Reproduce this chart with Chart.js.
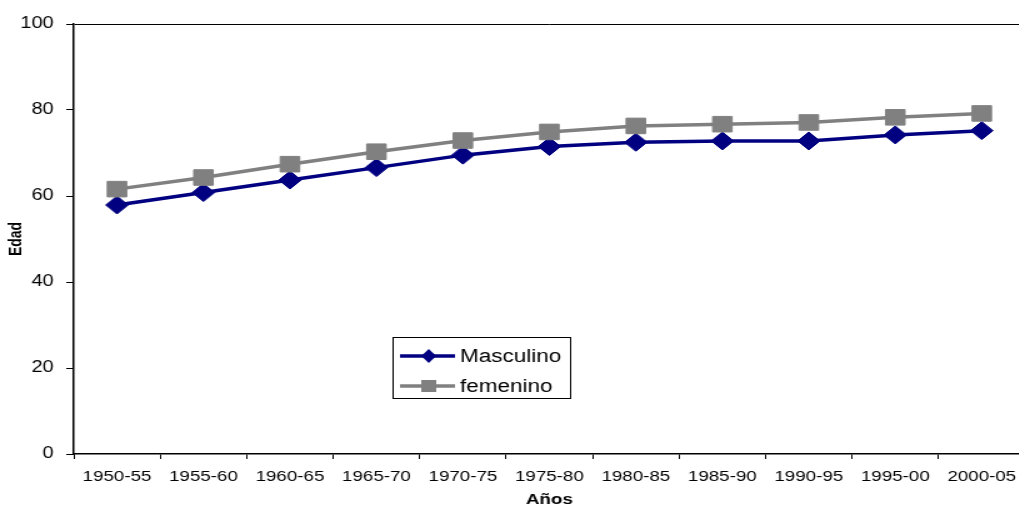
<!DOCTYPE html>
<html lang="es">
<head>
<meta charset="utf-8">
<title>Edad - Masculino / femenino</title>
<script src="https://cdn.jsdelivr.net/npm/chart.js@4/dist/chart.umd.min.js"></script>
<style>
    html, body { margin: 0; padding: 0; background: #fff; overflow: hidden; }
    #wrap { width: 1019px; height: 506px; overflow: hidden; }
</style>
</head>
<body>
<div id="wrap">
    <!-- the original picture is stretched sideways, so the canvas is drawn narrow and widened with css -->
    <canvas id="grafico" width="832" height="506" style="width:1040px;height:506px;"></canvas>
</div>
<script>
// Datos
const periodos = ['1950-55', '1955-60', '1960-65', '1965-70', '1970-75', '1975-80',
                  '1980-85', '1985-90', '1990-95', '1995-00', '2000-05'];
const masculino = [57.9, 60.8, 63.7, 66.6, 69.5, 71.5, 72.5, 72.8, 72.8, 74.2, 75.2];
const femenino = [61.6, 64.3, 67.4, 70.3, 72.9, 74.9, 76.3, 76.7, 77.1, 78.3, 79.2];
const ticksEdad = [0, 20, 40, 60, 80, 100];

const FUENTE = '"Liberation Sans", Arial, Helvetica, sans-serif';
const AZUL = '#000080';
const GRIS = '#808080';

// Leyenda dibujada dentro del area del grafico (como en Excel)
const leyendaCaja = {
    id: 'leyendaCaja',
    afterDatasetsDraw(chart) {
        const ctx = chart.ctx;
        const area = chart.chartArea;
        const x0 = area.left + 255;
        const y0 = area.top + 313;
        const w = 142;
        const h = 61;

        ctx.save();
        ctx.fillStyle = '#fff';
        ctx.fillRect(x0, y0, w, h);
        ctx.strokeStyle = '#000';
        ctx.lineWidth = 1;
        ctx.strokeRect(x0 + 0.5, y0 + 0.5, w, h);

        chart.data.datasets.forEach((ds, i) => {
            const yc = y0 + 19 + i * 30;
            ctx.strokeStyle = ds.borderColor;
            ctx.lineWidth = 3.5;
            ctx.beginPath();
            ctx.moveTo(x0 + 6, yc);
            ctx.lineTo(x0 + 50, yc);
            ctx.stroke();

            const mx = x0 + 29;
            ctx.fillStyle = ds.pointBackgroundColor;
            ctx.beginPath();
            if (ds.pointStyle === 'rectRot') {
                ctx.moveTo(mx, yc - 7);
                ctx.lineTo(mx + 6, yc);
                ctx.lineTo(mx, yc + 7);
                ctx.lineTo(mx - 6, yc);
                ctx.closePath();
            } else {
                ctx.rect(mx - 6, yc - 6, 12, 12);
            }
            ctx.fill();

            ctx.fillStyle = '#000';
            ctx.font = '18px ' + FUENTE;
            ctx.textAlign = 'left';
            ctx.textBaseline = 'middle';
            ctx.fillText(ds.label, x0 + 54, yc + 1);
        });
        ctx.restore();
    }
};

const ctx = document.getElementById('grafico').getContext('2d');
const grafico = new Chart(ctx, {
    type: 'line',
    data: {
        labels: periodos,
        datasets: [{
            label: 'Masculino',
            data: masculino,
            borderColor: AZUL,
            backgroundColor: AZUL,
            pointBackgroundColor: AZUL,
            pointBorderColor: AZUL,
            borderWidth: 3.5,
            pointStyle: 'rectRot',
            pointRadius: 9,
            pointBorderWidth: 1,
            tension: 0,
            fill: false,
            order: 1
        }, {
            label: 'femenino',
            data: femenino,
            borderColor: GRIS,
            backgroundColor: GRIS,
            pointBackgroundColor: GRIS,
            pointBorderColor: GRIS,
            borderWidth: 3.5,
            pointStyle: 'rect',
            pointRadius: 11,
            pointBorderWidth: 1,
            tension: 0,
            fill: false,
            order: 0
        }]
    },
    options: {
        responsive: false,
        devicePixelRatio: 1,
        animation: false,
        layout: {
            padding: { top: 24, right: 5, bottom: 0, left: 0 }
        },
        plugins: {
            legend: { display: false },
            tooltip: { enabled: false }
        },
        scales: {
            x: {
                offset: true,
                grid: {
                    offset: true,
                    drawOnChartArea: false,
                    color: '#000',
                    tickLength: 5,
                    lineWidth: 1
                },
                border: { display: true, color: '#000', width: 1.5 },
                ticks: {
                    color: '#000',
                    font: { family: FUENTE, size: 15 },
                    padding: 9,
                    maxRotation: 0,
                    autoSkip: false
                },
                title: {
                    display: true,
                    text: 'Años',
                    color: '#000',
                    font: { family: FUENTE, size: 15, weight: 'bold' },
                    padding: { top: 0, bottom: -3 }
                },
                afterFit(scale) {
                    scale.height = 52;
                }
            },
            y: {
                min: 0,
                max: 100,
                afterBuildTicks(scale) {
                    scale.ticks = ticksEdad.map(v => ({ value: v }));
                },
                grid: {
                    color: (c) => (c.tick && c.tick.value === 100 ? '#000' : 'rgba(0,0,0,0)'),
                    tickColor: '#000',
                    tickLength: 6,
                    lineWidth: 1
                },
                border: { display: true, color: '#000', width: 1.5 },
                ticks: {
                    color: '#000',
                    font: { family: FUENTE, size: 16 },
                    padding: 10
                },
                title: {
                    display: true,
                    text: 'Edad',
                    color: '#000',
                    font: { family: FUENTE, size: 14, weight: 'bold' },
                    padding: { top: 5, bottom: 0 }
                },
                afterFit(scale) {
                    scale.width = 59;
                }
            }
        }
    },
    plugins: [leyendaCaja]
});
</script>
</body>
</html>
